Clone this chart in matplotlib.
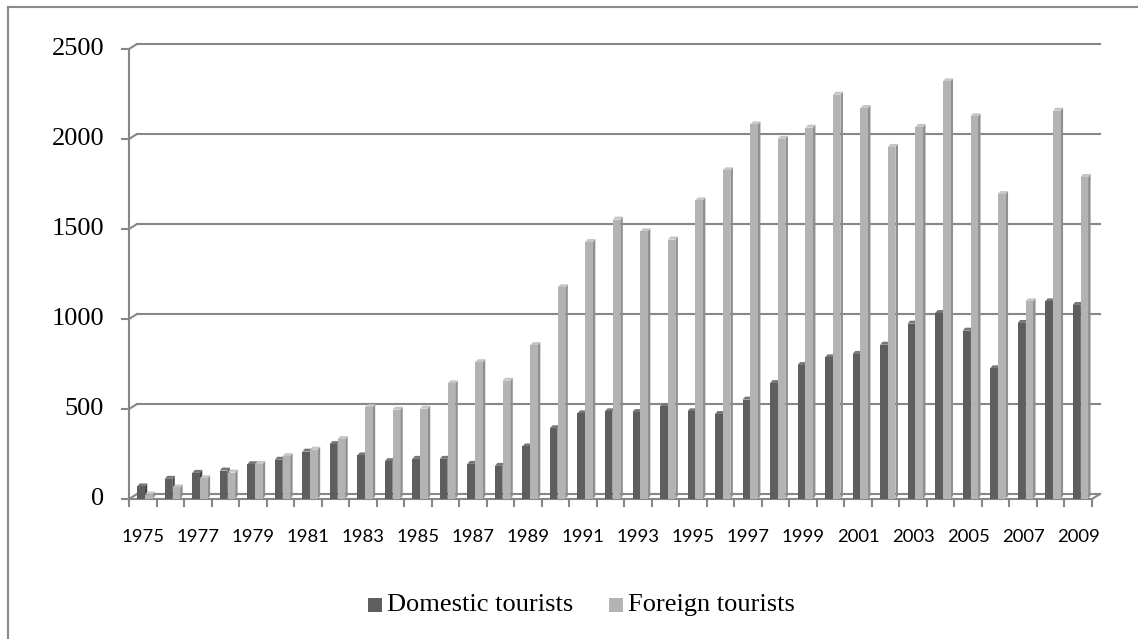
import numpy as np
import matplotlib
matplotlib.use("Agg")
import matplotlib.pyplot as plt
from matplotlib.patches import Rectangle, Polygon
from matplotlib.lines import Line2D

years = list(range(1975, 2010))
domestic = [70, 112, 145, 158, 193, 218, 263, 305, 242, 210, 223, 223, 195, 184, 292,
            393, 476, 487, 483, 515, 487, 472, 552, 644, 744, 787, 806, 857, 974, 1033,
            935, 726, 978, 1098, 1078]
foreign = [25, 64, 115, 147, 195, 238, 274, 333, 510, 496, 502, 642, 760, 657, 855,
           1176, 1428, 1552, 1487, 1441, 1659, 1826, 2081, 2001, 2063, 2246, 2172, 1956, 2067, 2320,
           2126, 1694, 1098, 2157, 1789]
yticks = [0, 500, 1000, 1500, 2000, 2500]
series_names = ["Domestic tourists", "Foreign tourists"]

W, H = 1138, 639
fig = plt.figure(figsize=(W / 100, H / 100), dpi=100)

# front plane of the pseudo-3d plot, in pixels
x_left, x_right, y_zero, y_top = 129, 1092, 499, 49
ax = fig.add_axes([x_left / W, (H - y_zero) / H, (x_right - x_left) / W, (y_zero - y_top) / H])
n = len(years)
ax.set_xlim(-0.5, n - 0.5)
ax.set_ylim(0, 2500)
ax.axis("off")

pxx = (x_right - x_left) / n      # pixels per category
pxy = (y_zero - y_top) / 2500.0   # pixels per unit
wall_dx, wall_dy = 8 / pxx, 5 / pxy
bar_dx, bar_dy = 2.5 / pxx, 3 / pxy

grid_c = "#878787"
lw = 1.5

# back wall gridlines and left wall joins
for v in yticks:
    ax.add_line(Line2D([-0.5 + wall_dx, n - 0.5 + wall_dx], [v + wall_dy, v + wall_dy],
                       color=grid_c, lw=lw, clip_on=False, zorder=1))
    ax.add_line(Line2D([-0.5, -0.5 + wall_dx], [v, v + wall_dy],
                       color=grid_c, lw=lw, clip_on=False, zorder=1))
    ax.add_line(Line2D([-0.5 - 7 / pxx, -0.5], [v, v], color=grid_c, lw=lw, clip_on=False, zorder=1))
    ax.text(-0.5 - 25 / pxx, v, str(v), ha="right", va="center", fontsize=19,
            family="Liberation Serif", color="black")

# left axis line, front floor edge, right floor join
ax.add_line(Line2D([-0.5, -0.5], [0, 2500], color=grid_c, lw=lw, clip_on=False, zorder=1))
ax.add_line(Line2D([-0.5, n - 0.5], [0, 0], color=grid_c, lw=lw, clip_on=False, zorder=1))
ax.add_line(Line2D([n - 0.5, n - 0.5 + wall_dx], [0, wall_dy], color=grid_c, lw=lw, clip_on=False, zorder=1))

# category ticks
for k in range(n + 1):
    ax.add_line(Line2D([k - 0.5, k - 0.5], [0, -7 / pxy], color=grid_c, lw=lw, clip_on=False, zorder=1))

for i, yr in enumerate(years):
    if i % 2 == 0:
        ax.text(i, -38 / pxy, str(yr), ha="center", va="center", fontsize=13.3,
                family="Lato", color="black")

bw = 7.5 / pxx
offsets = [-0.2, 0.085]
colors = [("#5e5e5e", "#777777", "#474747"), ("#b3b3b3", "#c6c6c6", "#8f8f8f")]


def draw_bar(x0, v, cols, z):
    front, top, side = cols
    ax.add_patch(Polygon([(x0 + bw, 0), (x0 + bw + bar_dx, bar_dy), (x0 + bw + bar_dx, v + bar_dy), (x0 + bw, v)],
                         closed=True, fc=side, ec="none", clip_on=False, zorder=z))
    ax.add_patch(Polygon([(x0, v), (x0 + bar_dx, v + bar_dy), (x0 + bw + bar_dx, v + bar_dy), (x0 + bw, v)],
                         closed=True, fc=top, ec="none", clip_on=False, zorder=z))
    ax.add_patch(Rectangle((x0, 0), bw, v, fc=front, ec="none", clip_on=False, zorder=z))


for i in range(n):
    draw_bar(i + offsets[0], domestic[i], colors[0], 3 + i * 0.01)
    draw_bar(i + offsets[1], foreign[i], colors[1], 3 + i * 0.01 + 0.005)

# legend
leg_y = 1 - 605 / H
for sx, tx, name, cols in [(368, 387, series_names[0], colors[0]), (609, 628, series_names[1], colors[1])]:
    fig.patches.append(Rectangle((sx / W, leg_y - 7 / H), 14 / W, 14 / H, fc=cols[0], ec="none",
                                 transform=fig.transFigure))
    fig.text(tx / W, leg_y, name, ha="left", va="center", fontsize=19, family="Liberation Serif")

# outer chart frame (right and bottom run off the picture)
fig.add_artist(Line2D([8 / W, 8 / W], [0, 1 - 7 / H], color="#8a8a8a", lw=1.5, transform=fig.transFigure))
fig.add_artist(Line2D([8 / W, 1], [1 - 7 / H, 1 - 7 / H], color="#8a8a8a", lw=1.5, transform=fig.transFigure))

fig.savefig("out.png", dpi=100, facecolor="white")
